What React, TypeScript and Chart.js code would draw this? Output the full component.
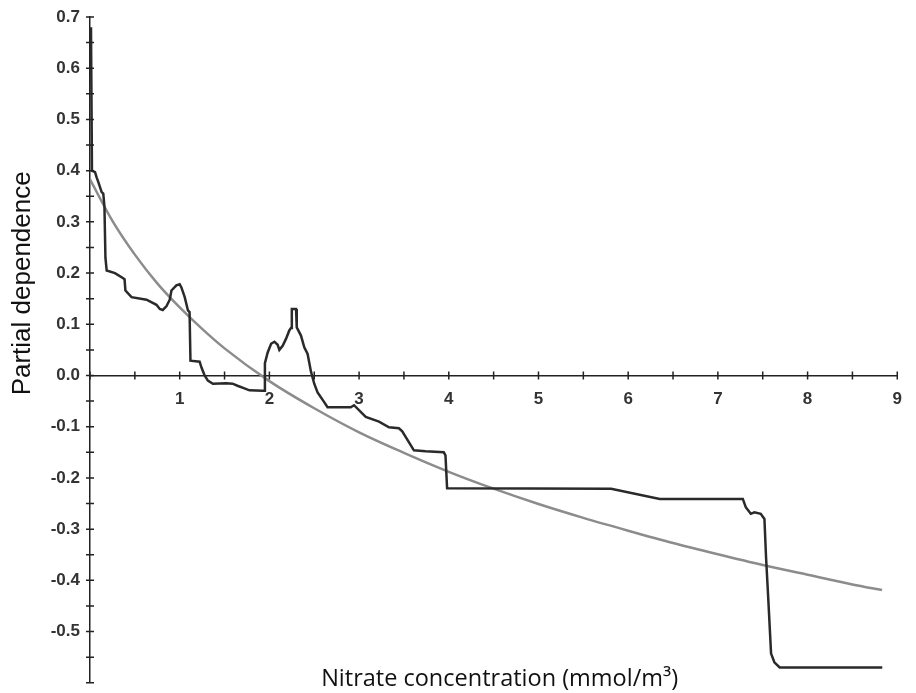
import React, { useEffect, useRef } from "react";
import { Chart, registerables } from "chart.js";

Chart.register(...registerables);

// Black step-like partial dependence curve
const stepX = [
  0.011, 0.022, 0.056, 0.074, 0.092, 0.13, 0.148, 0.161, 0.172, 0.186, 0.278, 0.37, 0.385, 0.395,
  0.463, 0.63, 0.741, 0.778, 0.811, 0.852, 0.889, 0.908, 0.963, 1.0, 1.019, 1.056, 1.092, 1.11,
  1.12, 1.222, 1.244, 1.278, 1.314, 1.37, 1.519, 1.589, 1.644, 1.722, 1.778, 1.926, 1.944, 1.95,
  1.981, 2.019, 2.056, 2.092, 2.111, 2.148, 2.186, 2.222, 2.241, 2.25, 2.297, 2.305, 2.352, 2.389,
  2.426, 2.463, 2.5, 2.537, 2.611, 2.648, 2.907, 2.944, 3.074, 3.222, 3.333, 3.444, 3.481, 3.611,
  3.741, 3.944, 3.963, 3.981, 5.81, 6.352, 7.278, 7.311, 7.367, 7.407, 7.478, 7.519, 7.537, 7.563,
  7.593, 7.63, 7.689, 8.833,
];
const stepY = [
  0.68, 0.4, 0.397, 0.387, 0.378, 0.358, 0.355, 0.33, 0.23, 0.205, 0.2, 0.19, 0.188, 0.166,
  0.153, 0.148, 0.138, 0.13, 0.128, 0.135, 0.148, 0.166, 0.176, 0.178, 0.172, 0.153, 0.127, 0.124,
  0.029, 0.027, 0.015, 0.0, -0.01, -0.016, -0.015, -0.016, -0.02, -0.025, -0.029, -0.03, -0.03, 0.024,
  0.045, 0.062, 0.066, 0.06, 0.05, 0.058, 0.072, 0.088, 0.093, 0.13, 0.13, 0.094, 0.078, 0.055,
  0.042, 0.008, -0.016, -0.033, -0.052, -0.062, -0.062, -0.058, -0.081, -0.09, -0.101, -0.103, -0.109, -0.146,
  -0.148, -0.15, -0.156, -0.22, -0.221, -0.241, -0.241, -0.257, -0.27, -0.267, -0.27, -0.28, -0.355, -0.44,
  -0.543, -0.56, -0.57, -0.57,
];

// Grey smooth fitted curve
const fitX = [0, 0.25, 0.5, 0.75, 1, 1.25, 1.5, 2, 2.5, 3, 3.5, 4, 4.5, 5, 5.5, 6, 6.5, 7, 7.5, 8, 8.5, 8.83];
const fitY = [
  0.383, 0.302, 0.236, 0.18, 0.133, 0.091, 0.053, -0.011, -0.064, -0.111, -0.151, -0.188, -0.221,
  -0.251, -0.278, -0.303, -0.327, -0.349, -0.37, -0.389, -0.408, -0.419,
];

const xTitle = "Nitrate concentration (mmol/m³)";
const yTitle = "Partial dependence";

const AXIS_COLOR = "#222222";
const TICK_FONT = { family: "'Liberation Sans', Arial, sans-serif", size: 17, weight: "bold" as const };

const crossTicks = {
  id: "crossTicks",
  afterDraw(chart: any) {
    const { ctx } = chart;
    const xs = chart.scales.x;
    const ys = chart.scales.y;
    const y0 = ys.getPixelForValue(0);
    const x0 = chart.chartArea.left;
    ctx.save();
    ctx.strokeStyle = AXIS_COLOR;
    ctx.lineWidth = 1.5;
    ctx.beginPath();
    xs.ticks.forEach((t: any) => {
      const px = xs.getPixelForValue(t.value);
      ctx.moveTo(px, y0 - 4);
      ctx.lineTo(px, y0 + 4);
    });
    ys.ticks.forEach((t: any) => {
      const py = ys.getPixelForValue(t.value);
      ctx.moveTo(x0 - 4, py);
      ctx.lineTo(x0 + 4, py);
    });
    ctx.stroke();
    ctx.restore();
  },
};

const axisTitles = {
  id: "axisTitles",
  afterDraw(chart: any) {
    const { ctx, chartArea } = chart;
    const ys = chart.scales.y;
    ctx.save();
    ctx.fillStyle = "#111111";
    ctx.textAlign = "center";
    ctx.textBaseline = "middle";
    ctx.font = "23.5px 'Open Sans', sans-serif";
    ctx.fillText(xTitle, (chartArea.left + chartArea.right) / 2 + 6, chartArea.bottom - 3);
    ctx.translate(23, ys.getPixelForValue(0.18));
    ctx.rotate(-Math.PI / 2);
    ctx.font = "26px 'Liberation Sans', Arial, sans-serif";
    ctx.fillText(yTitle, 0, 0);
    ctx.restore();
  },
};

export default function App() {
  const ref = useRef<HTMLCanvasElement | null>(null);

  useEffect(() => {
    document.body.style.margin = "0";
    if (!ref.current) return;
    const chart = new Chart(ref.current, {
      type: "scatter",
      data: {
        datasets: [
          {
            label: "Partial dependence",
            data: stepX.map((x, i) => ({ x, y: stepY[i] })),
            showLine: true,
            borderColor: "#2a2a2a",
            borderWidth: 2.5,
            pointRadius: 0,
            tension: 0,
            order: 0,
          },
          {
            label: "Fitted",
            data: fitX.map((x, i) => ({ x, y: fitY[i] })),
            showLine: true,
            borderColor: "#8c8c8c",
            borderWidth: 2.5,
            pointRadius: 0,
            tension: 0.4,
            cubicInterpolationMode: "monotone",
            order: 1,
          },
        ],
      },
      options: {
        responsive: false,
        animation: false,
        layout: { padding: { top: 17, right: 14, bottom: 0, left: 0 } },
        plugins: {
          legend: { display: false },
          tooltip: { enabled: false },
          title: { display: false },
        },
        scales: {
          x: {
            type: "linear",
            position: { y: 0 } as any,
            min: 0,
            max: 9,
            grid: { display: true, drawOnChartArea: false, drawTicks: false },
            border: { display: true, color: AXIS_COLOR, width: 1.5 },
            ticks: {
              stepSize: 0.5,
              autoSkip: false,
              maxRotation: 0,
              padding: 14,
              color: "#333333",
              font: TICK_FONT,
              callback: (v: any) => {
                const n = Number(v);
                return Number.isInteger(n) && n !== 0 ? String(n) : "";
              },
            },
          },
          y: {
            type: "linear",
            position: "left",
            min: -0.6,
            max: 0.7,
            afterFit: (s: any) => {
              s.width = 90;
            },
            grid: {
              display: true,
              drawOnChartArea: false,
              drawTicks: true,
              tickLength: 10,
              tickColor: "rgba(0,0,0,0)",
            },
            border: { display: true, color: AXIS_COLOR, width: 1.5 },
            ticks: {
              stepSize: 0.05,
              autoSkip: false,
              padding: 0,
              color: "#333333",
              font: TICK_FONT,
              callback: (v: any) => {
                const n = Number(v);
                const t = n * 10;
                if (Math.abs(t - Math.round(t)) > 1e-6) return "";
                if (n < -0.5 - 1e-6) return "";
                return (Math.round(t) / 10).toFixed(1);
              },
            },
          },
        },
      },
      plugins: [crossTicks, axisTitles],
    });
    return () => chart.destroy();
  }, []);

  return (
    <div style={{ width: 916, height: 693, position: "relative", background: "#ffffff" }}>
      <canvas ref={ref} width={916} height={693} />
    </div>
  );
}
